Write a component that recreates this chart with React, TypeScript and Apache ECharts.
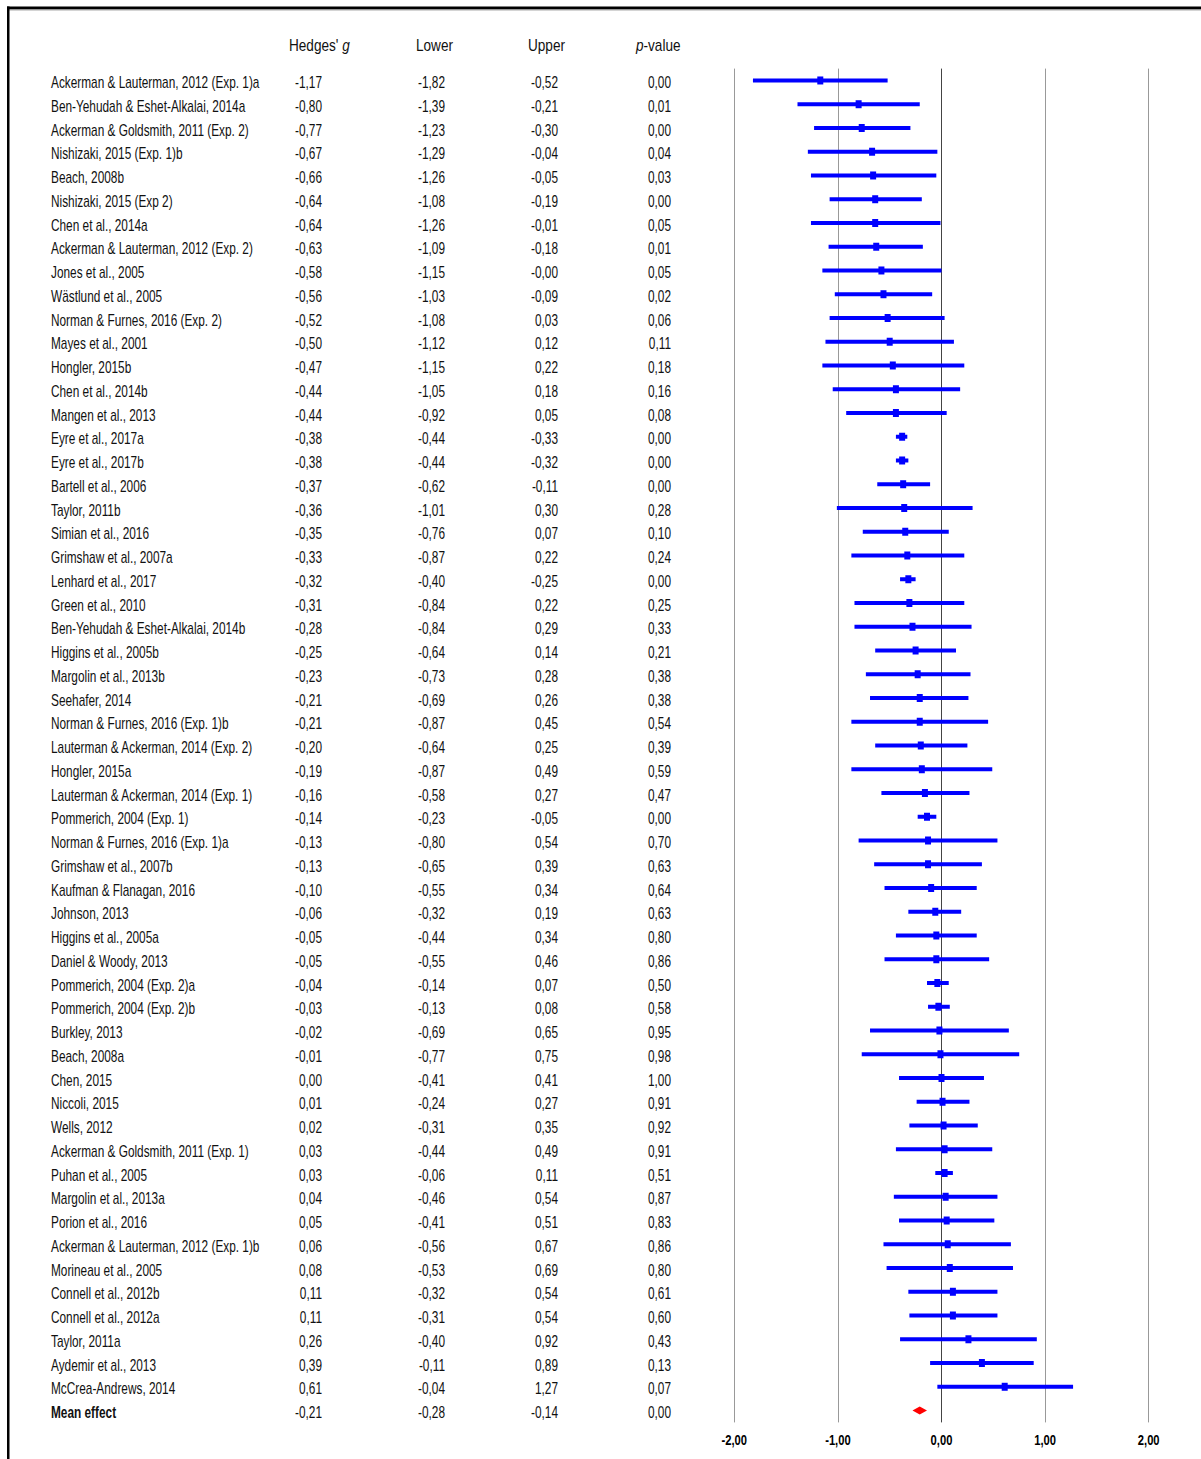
import React, { useEffect, useRef } from 'react';
import * as echarts from 'echarts';

const studies = [
  'Ackerman & Lauterman, 2012 (Exp. 1)a',
  'Ben-Yehudah & Eshet-Alkalai, 2014a',
  'Ackerman & Goldsmith, 2011 (Exp. 2)',
  'Nishizaki, 2015 (Exp. 1)b',
  'Beach, 2008b',
  'Nishizaki, 2015 (Exp 2)',
  'Chen et al., 2014a',
  'Ackerman & Lauterman, 2012 (Exp. 2)',
  'Jones et al., 2005',
  'Wästlund et al., 2005',
  'Norman & Furnes, 2016 (Exp. 2)',
  'Mayes et al., 2001',
  'Hongler, 2015b',
  'Chen et al., 2014b',
  'Mangen et al., 2013',
  'Eyre et al., 2017a',
  'Eyre et al., 2017b',
  'Bartell et al., 2006',
  'Taylor, 2011b',
  'Simian et al., 2016',
  'Grimshaw et al., 2007a',
  'Lenhard et al., 2017',
  'Green et al., 2010',
  'Ben-Yehudah & Eshet-Alkalai, 2014b',
  'Higgins et al., 2005b',
  'Margolin et al., 2013b',
  'Seehafer, 2014',
  'Norman & Furnes, 2016 (Exp. 1)b',
  'Lauterman & Ackerman, 2014 (Exp. 2)',
  'Hongler, 2015a',
  'Lauterman & Ackerman, 2014 (Exp. 1)',
  'Pommerich, 2004 (Exp. 1)',
  'Norman & Furnes, 2016 (Exp. 1)a',
  'Grimshaw et al., 2007b',
  'Kaufman & Flanagan, 2016',
  'Johnson, 2013',
  'Higgins et al., 2005a',
  'Daniel & Woody, 2013',
  'Pommerich, 2004 (Exp. 2)a',
  'Pommerich, 2004 (Exp. 2)b',
  'Burkley, 2013',
  'Beach, 2008a',
  'Chen, 2015',
  'Niccoli, 2015',
  'Wells, 2012',
  'Ackerman & Goldsmith, 2011 (Exp. 1)',
  'Puhan et al., 2005',
  'Margolin et al., 2013a',
  'Porion et al., 2016',
  'Ackerman & Lauterman, 2012 (Exp. 1)b',
  'Morineau et al., 2005',
  'Connell et al., 2012b',
  'Connell et al., 2012a',
  'Taylor, 2011a',
  'Aydemir et al., 2013',
  'McCrea-Andrews, 2014',
];

const hedgesG = [
  -1.17, -0.8, -0.77, -0.67, -0.66, -0.64, -0.64, -0.63, -0.58, -0.56,
  -0.52, -0.5, -0.47, -0.44, -0.44, -0.38, -0.38, -0.37, -0.36, -0.35,
  -0.33, -0.32, -0.31, -0.28, -0.25, -0.23, -0.21, -0.21, -0.2, -0.19,
  -0.16, -0.14, -0.13, -0.13, -0.1, -0.06, -0.05, -0.05, -0.04, -0.03,
  -0.02, -0.01, 0.0, 0.01, 0.02, 0.03, 0.03, 0.04, 0.05, 0.06,
  0.08, 0.11, 0.11, 0.26, 0.39, 0.61,
];

const lowerCI = [
  -1.82, -1.39, -1.23, -1.29, -1.26, -1.08, -1.26, -1.09, -1.15, -1.03,
  -1.08, -1.12, -1.15, -1.05, -0.92, -0.44, -0.44, -0.62, -1.01, -0.76,
  -0.87, -0.4, -0.84, -0.84, -0.64, -0.73, -0.69, -0.87, -0.64, -0.87,
  -0.58, -0.23, -0.8, -0.65, -0.55, -0.32, -0.44, -0.55, -0.14, -0.13,
  -0.69, -0.77, -0.41, -0.24, -0.31, -0.44, -0.06, -0.46, -0.41, -0.56,
  -0.53, -0.32, -0.31, -0.4, -0.11, -0.04,
];

// Upper limits as printed (keeps "-0,00" for Jones et al.)
const upperCI = [
  '-0.52', '-0.21', '-0.30', '-0.04', '-0.05', '-0.19', '-0.01', '-0.18', '-0.00', '-0.09',
  '0.03', '0.12', '0.22', '0.18', '0.05', '-0.33', '-0.32', '-0.11', '0.30', '0.07',
  '0.22', '-0.25', '0.22', '0.29', '0.14', '0.28', '0.26', '0.45', '0.25', '0.49',
  '0.27', '-0.05', '0.54', '0.39', '0.34', '0.19', '0.34', '0.46', '0.07', '0.08',
  '0.65', '0.75', '0.41', '0.27', '0.35', '0.49', '0.11', '0.54', '0.51', '0.67',
  '0.69', '0.54', '0.54', '0.92', '0.89', '1.27',
];

const pValues = [
  0.0, 0.01, 0.0, 0.04, 0.03, 0.0, 0.05, 0.01, 0.05, 0.02,
  0.06, 0.11, 0.18, 0.16, 0.08, 0.0, 0.0, 0.0, 0.28, 0.1,
  0.24, 0.0, 0.25, 0.33, 0.21, 0.38, 0.38, 0.54, 0.39, 0.59,
  0.47, 0.0, 0.7, 0.63, 0.64, 0.63, 0.8, 0.86, 0.5, 0.58,
  0.95, 0.98, 1.0, 0.91, 0.92, 0.91, 0.51, 0.87, 0.83, 0.86,
  0.8, 0.61, 0.6, 0.43, 0.13, 0.07,
];

const meanLabel = 'Mean effect';
const meanG = -0.21;
const meanLower = -0.28;
const meanUpper = -0.14;
const meanP = 0.0;

const xTicks = [-2, -1, 0, 1, 2];

const FONT = "'Liberation Sans', Arial, sans-serif";
const TXT = '#111111';

const fmt = (v: number | string) => {
  const s = typeof v === 'number' ? v.toFixed(2) : v;
  return s.replace('.', ',');
};

export default function App() {
  const ref = useRef<HTMLDivElement>(null);

  useEffect(() => {
    if (!ref.current) return;
    const chart = echarts.init(ref.current, undefined, { renderer: 'svg' });

    const rowNames = [...studies, meanLabel];
    const gCol = [...hedgesG.map(fmt), fmt(meanG)];
    const loCol = [...lowerCI.map(fmt), fmt(meanLower)];
    const upCol = [...upperCI.map(fmt), fmt(meanUpper)];
    const pCol = [...pValues.map(fmt), fmt(meanP)];

    const gridLeft = 734.3;
    const gridRight = 52.3;
    const gridTop = 68.6;
    const gridHeight = 1353.8;
    const gridBottomY = gridTop + gridHeight;

    const SX = 0.74;
    const FS = 16;
    const colRight = [322, 445, 558, 671];
    const nameLeft = 51;

    const barData = [
      ...studies.map((s, i) => [lowerCI[i], parseFloat(upperCI[i]), hedgesG[i], i, 0]),
      [meanLower, meanUpper, meanG, studies.length, 1],
    ];
    const tableData = rowNames.map((_, i) => [0, i]);
    const tickData = xTicks.map((t) => [t, 0]);

    const headerStyle = { fontSize: 16, fontFamily: FONT, fill: TXT };

    chart.setOption({
      animation: false,
      backgroundColor: '#ffffff',
      grid: { left: gridLeft, right: gridRight, top: gridTop, height: gridHeight, containLabel: false },
      xAxis: {
        type: 'value',
        min: xTicks[0],
        max: xTicks[xTicks.length - 1],
        interval: 1,
        axisLine: { show: false },
        axisTick: { show: false },
        splitLine: {
          show: true,
          lineStyle: { color: ['#999999', '#999999', '#444444', '#999999', '#999999'], width: 1 },
        },
        axisLabel: { show: false },
      },
      yAxis: {
        type: 'category',
        data: rowNames,
        inverse: true,
        axisLine: { show: false },
        axisTick: { show: false },
        splitLine: { show: false },
        axisLabel: { show: false },
      },
      series: [
        {
          type: 'custom',
          name: 'CI',
          encode: { x: [0, 1, 2], y: 3 },
          data: barData,
          renderItem: (params: any, api: any) => {
            const lo = api.value(0);
            const hi = api.value(1);
            const g = api.value(2);
            const row = api.value(3);
            const isMean = api.value(4);
            const pLo = api.coord([lo, row]);
            const pHi = api.coord([hi, row]);
            const pG = api.coord([g, row]);
            if (isMean) {
              return {
                type: 'polygon',
                shape: {
                  points: [
                    [pLo[0], pG[1]],
                    [pG[0], pG[1] - 4],
                    [pHi[0], pG[1]],
                    [pG[0], pG[1] + 4],
                  ],
                },
                style: { fill: '#ff0000' },
              };
            }
            return {
              type: 'group',
              children: [
                {
                  type: 'line',
                  shape: { x1: pLo[0], y1: pLo[1], x2: pHi[0], y2: pHi[1] },
                  style: { stroke: '#0000ff', lineWidth: 4 },
                },
                {
                  type: 'rect',
                  shape: { x: pG[0] - 3, y: pG[1] - 4, width: 6, height: 8 },
                  style: { fill: '#0000ff' },
                },
              ],
            };
          },
        },
        {
          type: 'custom',
          name: 'table',
          encode: { y: 1 },
          data: tableData,
          clip: false,
          silent: true,
          renderItem: (params: any, api: any) => {
            const i = params.dataIndex;
            const y = api.coord([0, i])[1] + 2;
            const isMean = i === rowNames.length - 1;
            const mk = (text: string, x: number, align: string, bold = false) => ({
              type: 'text',
              x,
              y,
              scaleX: SX,
              style: {
                text,
                x: 0,
                y: 0,
                align,
                verticalAlign: 'middle',
                fontSize: FS,
                fontFamily: FONT,
                fontWeight: bold ? 'bold' : 'normal',
                fill: TXT,
              },
            });
            return {
              type: 'group',
              children: [
                mk(rowNames[i], nameLeft, 'left', isMean),
                mk(gCol[i], colRight[0], 'right'),
                mk(loCol[i], colRight[1], 'right'),
                mk(upCol[i], colRight[2], 'right'),
                mk(pCol[i], colRight[3], 'right'),
              ],
            };
          },
        },
        {
          type: 'custom',
          name: 'ticks',
          encode: { x: 0 },
          data: tickData,
          clip: false,
          silent: true,
          renderItem: (params: any, api: any) => {
            const v = api.value(0);
            const x = api.coord([v, 0])[0];
            return {
              type: 'text',
              x,
              y: gridBottomY + 18,
              scaleX: 0.8,
              style: {
                text: fmt(v),
                x: 0,
                y: 0,
                align: 'center',
                verticalAlign: 'middle',
                fontSize: 14,
                fontFamily: FONT,
                fontWeight: 'bold',
                fill: '#000000',
              },
            };
          },
        },
      ],
      graphic: [
        { type: 'rect', shape: { x: 7, y: 6.5, width: 1194, height: 3 }, style: { fill: '#000000' } },
        { type: 'rect', shape: { x: 9, y: 9.5, width: 1192, height: 1 }, style: { fill: '#aaaaaa' } },
        { type: 'rect', shape: { x: 7, y: 6.5, width: 2.5, height: 1453 }, style: { fill: '#000000' } },
        {
          type: 'text',
          x: 289,
          y: 46,
          scaleX: 0.85,
          style: {
            text: "Hedges' {i|g}",
            ...headerStyle,
            verticalAlign: 'middle',
            rich: { i: { fontStyle: 'italic', fontSize: 16, fontFamily: FONT, fill: TXT } },
          },
        },
        { type: 'text', x: 416, y: 46, scaleX: 0.85, style: { text: 'Lower', ...headerStyle, verticalAlign: 'middle' } },
        { type: 'text', x: 528, y: 46, scaleX: 0.85, style: { text: 'Upper', ...headerStyle, verticalAlign: 'middle' } },
        {
          type: 'text',
          x: 636,
          y: 46,
          scaleX: 0.85,
          style: {
            text: '{i|p}-value',
            ...headerStyle,
            verticalAlign: 'middle',
            rich: { i: { fontStyle: 'italic', fontSize: 16, fontFamily: FONT, fill: TXT } },
          },
        },
      ],
    });

    return () => chart.dispose();
  }, []);

  return (
    <div
      ref={ref}
      style={{ position: 'absolute', left: 0, top: 0, width: 1201, height: 1459, background: '#ffffff' }}
    />
  );
}
